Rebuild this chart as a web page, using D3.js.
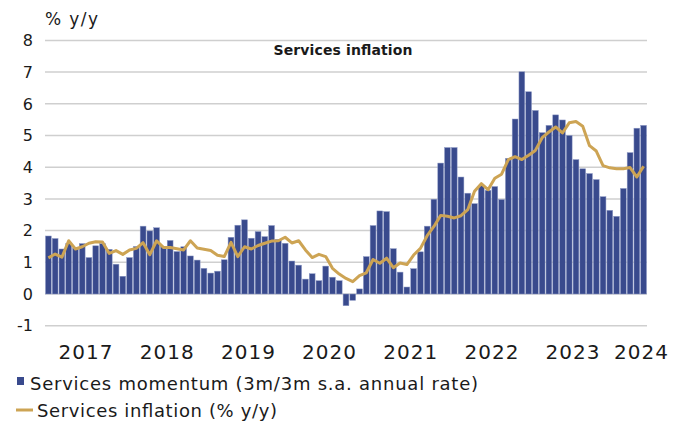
<!DOCTYPE html>
<html lang="en">
<head>
<meta charset="utf-8">
<title>Services inflation</title>
<script src="https://d3js.org/d3.v7.min.js"></script>
<style>
  body { margin: 0; background: #fff; }
  svg { font-family: "DejaVu Sans", Roboto, sans-serif; }
  .grid line { stroke: #cfcfcf; stroke-width: 1.5; }
  .tick-label { fill: #1a1a1a; }
</style>
</head>
<body>
<div id="chart"></div>
<script>
// monthly, Jul 2016 .. Nov 2023
const startYear = 2016, startMonth = 6;
const momentum = [
  1.83, 1.75, 1.42, 1.6, 1.45, 1.59, 1.15, 1.52, 1.59, 1.41, 0.94, 0.56,
  1.15, 1.5, 2.14, 1.99, 2.09, 1.5, 1.69, 1.34, 1.49, 1.2, 1.07, 0.81,
  0.66, 0.72, 1.08, 1.79, 2.17, 2.34, 1.76, 1.97, 1.81, 2.16, 1.72, 1.6,
  1.04, 0.91, 0.47, 0.64, 0.42, 0.88, 0.53, 0.42, -0.37, -0.2, 0.16, 1.18,
  2.16, 2.62, 2.6, 1.43, 0.69, 0.22, 0.8, 1.33, 2.14, 2.99, 4.13, 4.62,
  4.62, 3.69, 3.18, 2.85, 3.42, 3.27, 3.39, 2.98, 4.28, 5.52, 7.01, 6.38,
  5.79, 5.09, 5.32, 5.65, 5.49, 5.0, 4.24, 3.95, 3.8, 3.61, 3.07, 2.64,
  2.45, 3.33, 4.46, 5.23, 5.32
];
const inflation = [
  1.14, 1.26, 1.16, 1.68, 1.42, 1.49, 1.6, 1.65, 1.64, 1.28, 1.37, 1.25,
  1.39, 1.44, 1.62, 1.24, 1.68, 1.47, 1.47, 1.43, 1.39, 1.68, 1.45, 1.41,
  1.37, 1.22, 1.18, 1.63, 1.18, 1.49, 1.42, 1.53, 1.6, 1.67, 1.68, 1.79,
  1.61, 1.68, 1.39, 1.15, 1.25, 1.18, 0.81, 0.63, 0.49, 0.39, 0.58, 0.67,
  1.09, 0.97, 1.13, 0.83, 0.98, 0.93, 1.23, 1.44, 1.84, 2.13, 2.48, 2.45,
  2.4, 2.47, 2.66, 3.24, 3.48, 3.29, 3.65, 3.78, 4.24, 4.33, 4.24, 4.38,
  4.53, 4.93, 5.11, 5.27, 5.08, 5.4, 5.44, 5.29, 4.68, 4.51, 4.05, 3.98,
  3.95, 3.95, 3.99, 3.69, 4.03
];
const yTicks = [-1, 0, 1, 2, 3, 4, 5, 6, 7, 8];
const yearLabels = [2017, 2018, 2019, 2020, 2021, 2022, 2023, 2024];

const months = momentum.map((_, i) => new Date(startYear, startMonth + i, 1));
const data = months.map((m, i) => ({ m: m, mom: momentum[i], inf: inflation[i] }));

const W = 689, H = 426;
const plotL = 45, plotR = 647, plotT = 40.4, plotB = 325.7;

const svg = d3.select("#chart").append("svg")
  .attr("width", W).attr("height", H);

const x = d3.scaleBand()
  .domain(months.map(d => +d))
  .range([plotL, plotR])
  .paddingInner(0.14).paddingOuter(0.07);

const y = d3.scaleLinear().domain([-1, 8]).range([plotB, plotT]);

// gridlines
svg.append("g").attr("class", "grid")
  .selectAll("line").data(yTicks).join("line")
  .attr("x1", plotL).attr("x2", plotR)
  .attr("y1", d => y(d)).attr("y2", d => y(d));

// y labels
svg.append("g").selectAll("text").data(yTicks).join("text")
  .attr("class", "tick-label")
  .attr("x", 33).attr("y", d => y(d)).attr("dy", "0.36em")
  .attr("text-anchor", "end").attr("font-size", 16)
  .text(d => d);

svg.append("text").attr("x", 45).attr("y", 25)
  .attr("font-size", 17).attr("fill", "#1a1a1a")
  .attr("textLength", 53).text("% y/y");

// bars
svg.append("g").selectAll("rect").data(data).join("rect")
  .attr("x", d => x(+d.m))
  .attr("width", x.bandwidth())
  .attr("y", d => y(Math.max(0, d.mom)))
  .attr("height", d => Math.abs(y(d.mom) - y(0)))
  .attr("fill", "#394a8d")
  .attr("stroke", "#8f9bc6").attr("stroke-width", 0.5);

// line
const line = d3.line()
  .x(d => x(+d.m) + x.bandwidth() / 2)
  .y(d => y(d.inf));

svg.append("path").datum(data)
  .attr("d", line)
  .attr("fill", "none")
  .attr("stroke", "#cda454")
  .attr("stroke-width", 3)
  .attr("stroke-linejoin", "round");

// x year labels at the start of each January
const step = x.step();
svg.append("g").selectAll("text").data(yearLabels).join("text")
  .attr("class", "tick-label")
  .attr("x", d => {
    const idx = (d - startYear) * 12 - startMonth;
    return Math.min(plotL + idx * step, 641);
  })
  .attr("y", 359)
  .attr("text-anchor", "middle").attr("font-size", 20)
  .attr("textLength", 54)
  .text(d => d);

// title
svg.append("text").attr("x", 343).attr("y", 55)
  .attr("text-anchor", "middle").attr("font-size", 14).attr("font-weight", "bold")
  .attr("fill", "#1a1a1a").attr("textLength", 139).text("Services inflation");

// legend
const lg = svg.append("g").attr("font-size", 18).attr("fill", "#1a1a1a");
lg.append("rect").attr("x", 17).attr("y", 377).attr("width", 7).attr("height", 8).attr("fill", "#394a8d");
lg.append("text").attr("x", 30).attr("y", 390).attr("textLength", 448)
  .text("Services momentum (3m/3m s.a. annual rate)");
lg.append("line").attr("x1", 16).attr("x2", 33).attr("y1", 410).attr("y2", 410)
  .attr("stroke", "#cda454").attr("stroke-width", 3);
lg.append("text").attr("x", 37).attr("y", 417).attr("textLength", 240)
  .text("Services inflation (% y/y)");
</script>
</body>
</html>
